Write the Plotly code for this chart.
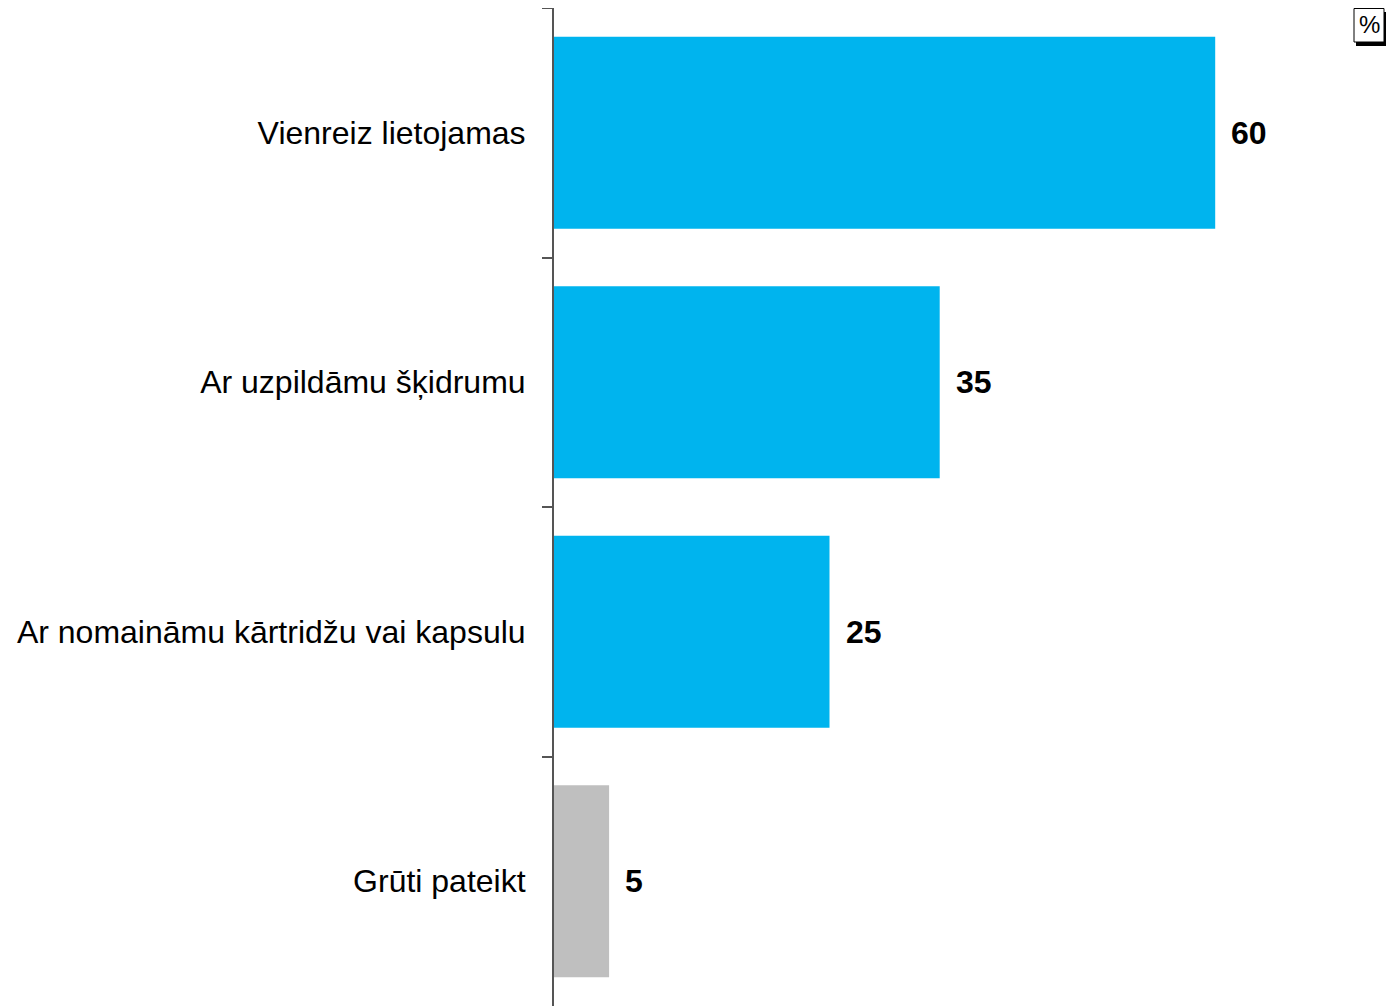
import plotly.graph_objects as go

categories = [
    "Vienreiz lietojamas",
    "Ar uzpildāmu šķidrumu",
    "Ar nomaināmu kārtridžu vai kapsulu",
    "Grūti pateikt",
]
values = [60, 35, 25, 5]
bar_colors = ["#00B4EE", "#00B4EE", "#00B4EE", "#BFBFBF"]
unit_label = "%"

FONT = "Liberation Sans, Arial, sans-serif"

# page body adds an 8px margin, so the figure is laid out in its own coordinates
L, W, H = 546, 840, 998


def px_x(fx):
    return (fx - L) / W


def px_y(fy):
    return (H - fy) / H


fig = go.Figure(
    go.Bar(
        x=values,
        y=categories,
        orientation="h",
        marker=dict(color=bar_colors, line=dict(width=0)),
        width=0.77,
        hoverinfo="skip",
    )
)

for cat, val in zip(categories, values):
    fig.add_annotation(
        x=val, y=cat, text=f"<b>{val}</b>", showarrow=False,
        xanchor="left", xshift=14,
        font=dict(family=FONT, size=32, color="black"),
    )

# "%" box with drop shadow in the top-right corner
fig.add_shape(type="rect", xref="paper", yref="paper",
              x0=px_x(1348), x1=px_x(1378), y0=px_y(38), y1=px_y(4),
              fillcolor="black", line=dict(width=0))
fig.add_shape(type="rect", xref="paper", yref="paper",
              x0=px_x(1346), x1=px_x(1376), y0=px_y(34), y1=px_y(0.5),
              fillcolor="white", line=dict(color="black", width=1))
fig.add_annotation(xref="paper", yref="paper",
                   x=px_x(1361), y=px_y(17),
                   xanchor="center", yanchor="middle",
                   text=unit_label, showarrow=False,
                   font=dict(family=FONT, size=24, color="black"))

fig.update_layout(
    width=L + W,
    height=H,
    margin=dict(l=L, r=0, t=0, b=0),
    plot_bgcolor="white",
    paper_bgcolor="white",
    showlegend=False,
)
fig.update_xaxes(range=[0, W / 11.02], visible=False, showgrid=False)
fig.update_yaxes(
    autorange="reversed",
    showgrid=False,
    showline=True,
    linecolor="#555555",
    linewidth=2,
    ticks="outside",
    ticklen=10,
    tickwidth=2,
    tickcolor="#555555",
    tickson="boundaries",
    ticklabelstandoff=20,
    tickfont=dict(family=FONT, size=32, color="black"),
)

fig.write_html("out.html")
